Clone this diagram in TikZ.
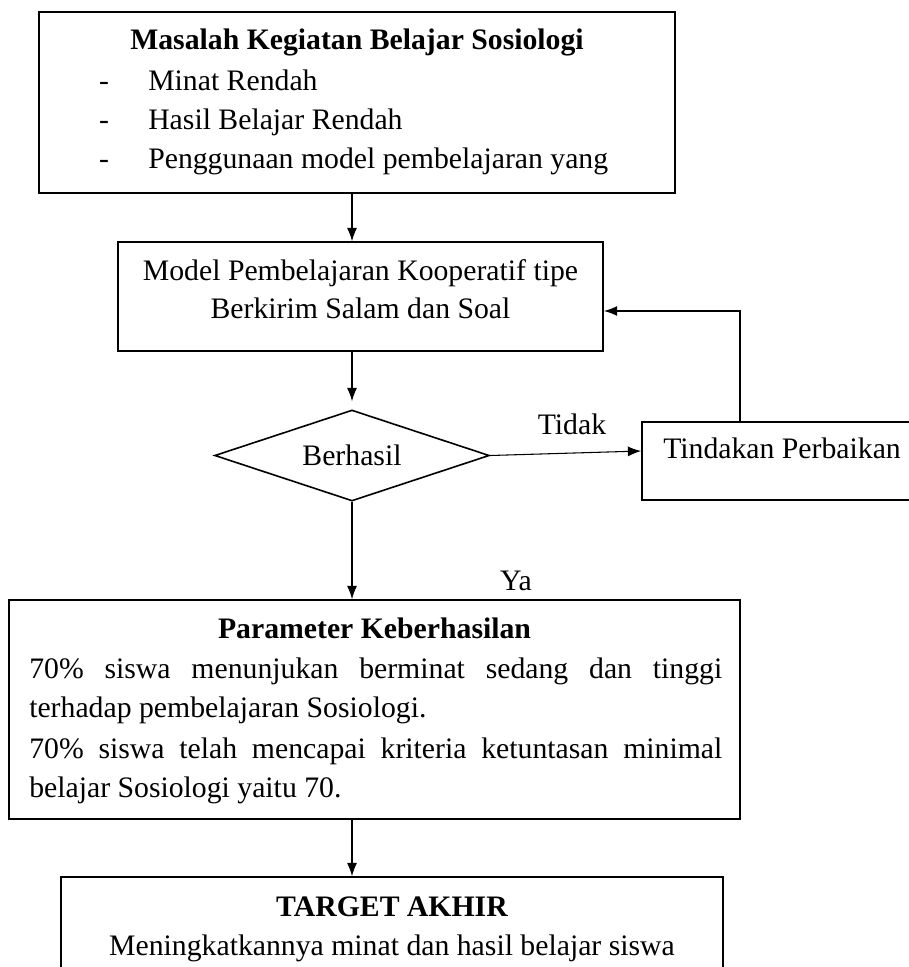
\documentclass[tikz,border=0pt]{standalone}
\usepackage{fontspec}
\setmainfont{Liberation Serif}
\usetikzlibrary{arrows.meta,shapes.geometric,fit}
\begin{document}
\begin{tikzpicture}[x=0.75pt,y=-0.75pt,
  box/.style={draw,line width=1.2pt,rectangle,inner sep=0pt},
  txt/.style={inner sep=0pt,anchor=base,font=\fontsize{22.3}{28}\selectfont},
  ltxt/.style={txt,anchor=base west},
  btxt/.style={txt,font=\fontsize{22.3}{28}\selectfont\bfseries},
  arr/.style={draw,line width=0.8pt,-{Latex[length=10pt,width=7.5pt]}},
  fbarr/.style={draw,line width=1.1pt,-{Latex[length=10pt,width=7.5pt]}},
]
\useasboundingbox (0,0) rectangle (909,967);
\clip (0,0) rectangle (909,967);

% corner coordinates
\coordinate (b1a) at (39,12);   \coordinate (b1b) at (675,193);
\coordinate (b2a) at (118,242); \coordinate (b2b) at (603,351);
\coordinate (tia) at (642,422); \coordinate (tib) at (1000,500);
\coordinate (pka) at (9,600);   \coordinate (pkb) at (740,819);
\coordinate (tga) at (61,877);  \coordinate (tgb) at (723,1060);
\coordinate (fb) at (740,311);

% boxes
\node[box,fit=(b1a)(b1b)] (b1) {};
\node[box,fit=(b2a)(b2b)] (b2) {};
\node[draw,line width=1.2pt,diamond,inner sep=0pt,minimum width=206pt,minimum height=68.25pt] (dia) at (352,455.5) {};
\node[box,fit=(tia)(tib)] (tind) {};
\node[box,fit=(pka)(pkb)] (pk) {};
\node[box,fit=(tga)(tgb)] (tg) {};

% box 1 text
\node[btxt] (t1) at (357,49) {Masalah Kegiatan Belajar Sosiologi};
\node[txt] (d1) at (104,90) {-};
\node[txt] (d2) at (104,129) {-};
\node[txt] (d3) at (104,168) {-};
\node[ltxt] (i1) at (148,90) {Minat Rendah};
\node[ltxt] (i2) at (148,129) {Hasil Belajar Rendah};
\node[ltxt] (i3) at (148,168) {Penggunaan model pembelajaran yang};

% box 2 text
\node[txt] (m1) at (360.5,280) {Model Pembelajaran Kooperatif tipe};
\node[txt] (m2) at (360.5,318) {Berkirim Salam dan Soal};

% decision
\node[txt] (bh) at (352,465) {Berhasil};
\node[ltxt] (tt) at (663,458) {Tindakan Perbaikan};
\node[txt] (tdk) at (572,434) {Tidak};
\node[txt] (ya) at (516,590) {Ya};

% parameter box text
\node[btxt] (pt) at (374.5,638) {Parameter Keberhasilan};
\node[ltxt] (p1) at (29,678) {\makebox[519.75pt][s]{70\% siswa menunjukan berminat sedang dan tinggi}};
\node[ltxt] (p2) at (29,717) {terhadap pembelajaran Sosiologi.};
\node[ltxt] (p3) at (29,758) {\makebox[519.75pt][s]{70\% siswa telah mencapai kriteria ketuntasan minimal}};
\node[ltxt] (p4) at (29,797) {belajar Sosiologi yaitu 70.};

% target text
\node[btxt] (tgt) at (392,916) {TARGET AKHIR};
\node[txt] (tgl) at (392,955) {Meningkatkannya minat dan hasil belajar siswa};

% connectors
\draw[arr] (b1.south -| dia.north) -- (b2.north -| dia.north);
\draw[arr,shorten >=6pt] (b2.south -| dia.north) -- (dia.north);
\draw[arr] (dia.east) -- ([yshift=7.5pt]tind.west);
\draw[fbarr] (tind.north -| fb) |- (b2.east |- fb);
\draw[arr] (dia.south) -- (pk.north -| dia.south);
\draw[arr] (pk.south -| dia.south) -- (tg.north -| dia.south);
\end{tikzpicture}
\end{document}
